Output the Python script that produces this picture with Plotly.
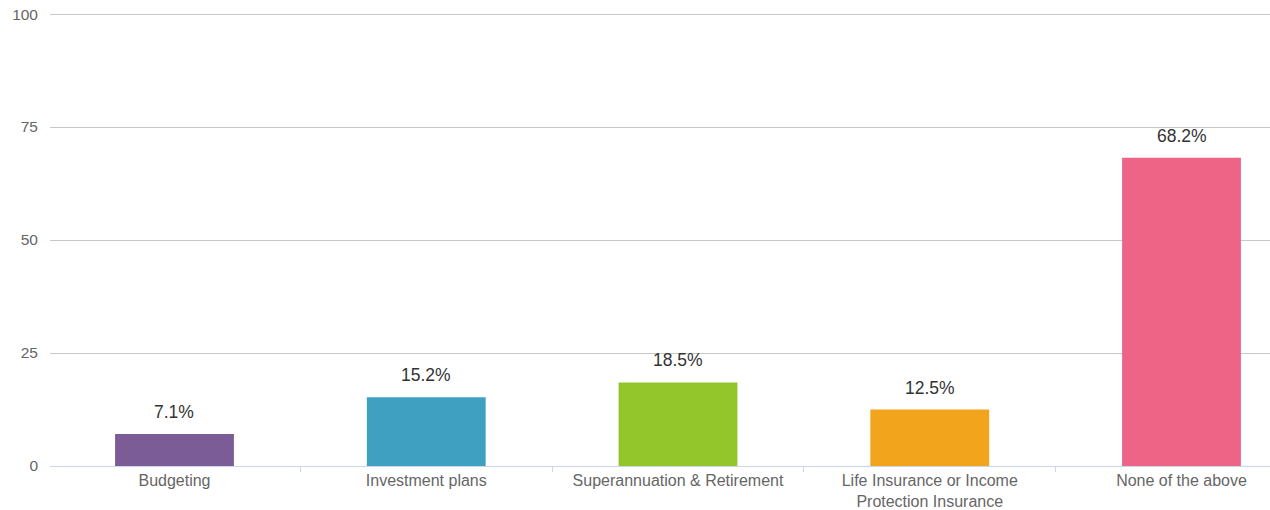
import plotly.graph_objects as go

# Survey responses: share of respondents per topic (%)
categories = [
    "Budgeting",
    "Investment plans",
    "Superannuation & Retirement",
    "Life Insurance or Income<br>Protection Insurance",
    "None of the above",
]
values = [7.1, 15.2, 18.5, 12.5, 68.2]
bar_colors = ["#7b5c96", "#40a0c1", "#93c62a", "#f2a41c", "#ee6486"]
y_ticks = [0, 25, 50, 75, 100]

FONT = "Liberation Sans, Arial, sans-serif"

fig = go.Figure()
fig.add_trace(go.Bar(
    x=categories,
    y=values,
    marker=dict(color=bar_colors, line=dict(width=0)),
    width=0.472,
    hoverinfo="skip",
))

# value labels above each bar
for cat, val in zip(categories, values):
    fig.add_annotation(
        x=cat, y=val, text=f"{val}%",
        showarrow=False, yanchor="bottom", yshift=10,
        font=dict(family=FONT, size=17.5, color="#333333"),
    )

fig.update_layout(
    width=1270, height=510,
    margin=dict(l=50, r=0, t=10, b=44),
    paper_bgcolor="white", plot_bgcolor="white",
    showlegend=False,
    bargap=0.5,
)
fig.update_xaxes(
    type="category",
    range=[-0.4945, 4.3515],
    showgrid=False,
    showline=True, linecolor="#ccd6eb", linewidth=1,
    ticks="outside", tickson="boundaries", ticklen=5, tickcolor="#ccd6eb",
    tickfont=dict(family=FONT, size=16, color="#666666"),
    automargin=False,
    fixedrange=True,
)
# headroom above 100 keeps the top gridline inside the plot area
fig.update_yaxes(
    range=[0, 100.9],
    tickvals=y_ticks,
    showgrid=True, gridcolor="#c8c8c8", gridwidth=1,
    zeroline=False, showline=False,
    ticks="", ticklabelstandoff=11,
    tickfont=dict(family=FONT, size=15.5, color="#666666"),
    automargin=False,
    fixedrange=True,
)

fig.write_html("out.html")
